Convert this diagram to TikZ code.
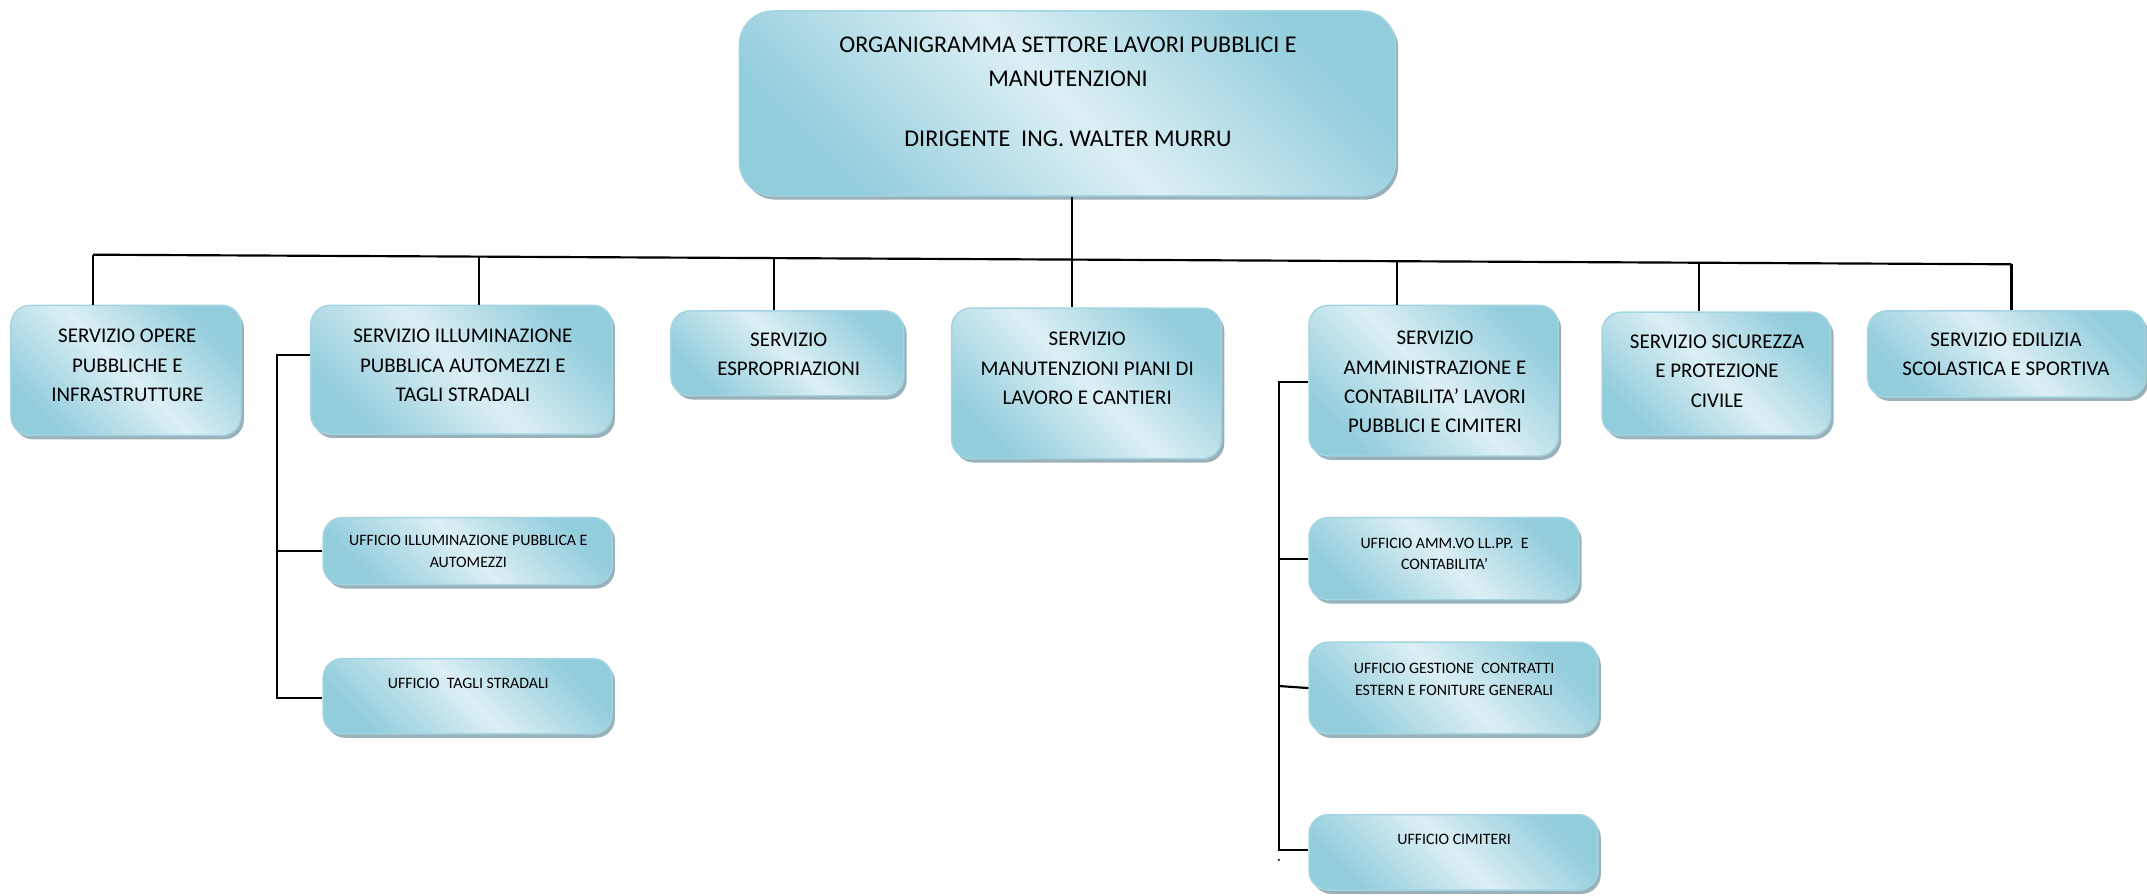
\documentclass[tikz,border=0pt]{standalone}
\usepackage{fontspec}
\setmainfont{Carlito}
\usetikzlibrary{shadows,fit,calc}
\definecolor{bdark}{HTML}{92CDDC}
\definecolor{blight}{HTML}{DCEFF4}
\definecolor{bline}{HTML}{A3D4E1}
\definecolor{bshadow}{HTML}{8FA9B2}
\tikzset{
  boxbase/.style={draw=bline, line width=0.6pt, top color=bdark, bottom color=bdark, middle color=blight, shading angle=-45, drop shadow={shadow xshift=1.2pt, shadow yshift=-1.6pt, fill=bshadow, opacity=0.9}, inner sep=0pt},
  box/.style={boxbase, rounded corners=8pt},
  bigbox/.style={boxbase, rounded corners=14pt},
  txt/.style={align=center, inner sep=0pt, font=\fontsize{8.7}{12.2}\selectfont},
  stxt/.style={align=center, inner sep=0pt, font=\fontsize{6.6}{9.1}\selectfont},
  ttxt/.style={align=center, inner sep=0pt, font=\fontsize{10}{14.2}\selectfont},
  conn/.style={line width=0.9pt, black}
}
\begin{document}
\begin{tikzpicture}[x=0.02cm, y=-0.02cm]
\useasboundingbox (0,0) rectangle (1568,654);

% boxes
\node[bigbox, fit={(540,8) (1019,143)}] (top) {};
\node[box, fit={(8,223) (176,318)}] (s1) {};
\node[box, fit={(227,223) (447,317)}] (s2) {};
\node[box, fit={(490,227) (660,289)}] (s3) {};
\node[box, fit={(695,225) (892,335)}] (s4) {};
\node[box, fit={(956,223) (1138,333)}] (s5) {};
\node[box, fit={(1170,228) (1337,318)}] (s6) {};
\node[box, fit={(1364,227) (1567,290)}] (s7) {};
\node[box, fit={(236,378) (447,427)}] (u1) {};
\node[box, fit={(236,481) (447,536)}] (u2) {};
\node[box, fit={(956,378) (1153,438)}] (a1) {};
\node[box, fit={(956,469) (1167,536)}] (a2) {};
\node[box, fit={(956,595) (1167,650)}] (a3) {};

% texts
\node[ttxt] (topt) at (780,67) {ORGANIGRAMMA SETTORE LAVORI PUBBLICI E\\MANUTENZIONI\\[10.7pt]DIRIGENTE\ \ ING. WALTER MURRU};
\node[txt] (s1t) at (93,267) {SERVIZIO OPERE\\PUBBLICHE E\\INFRASTRUTTURE};
\node[txt] (s2t) at (338,267) {SERVIZIO ILLUMINAZIONE\\PUBBLICA AUTOMEZZI E\\TAGLI STRADALI};
\node[txt] (s3t) at (576,258.5) {SERVIZIO\\ESPROPRIAZIONI};
\node[txt] (s4t) at (794,269) {SERVIZIO\\MANUTENZIONI PIANI DI\\LAVORO E CANTIERI};
\node[txt] (s5t) at (1048,279) {SERVIZIO\\AMMINISTRAZIONE E\\CONTABILITA’ LAVORI\\PUBBLICI E CIMITERI};
\node[txt] (s6t) at (1254,271) {SERVIZIO SICUREZZA\\E PROTEZIONE\\CIVILE};
\node[txt] (s7t) at (1465,258.5) {SERVIZIO EDILIZIA\\SCOLASTICA E SPORTIVA};
\node[stxt] (u1t) at (342,403) {UFFICIO ILLUMINAZIONE PUBBLICA E\\AUTOMEZZI};
\node[stxt] (u2t) at (342,499) {UFFICIO\ \ TAGLI STRADALI};
\node[stxt] (a1t) at (1055,404.5) {UFFICIO AMM.VO LL.PP.\ \ E\\CONTABILITA’};
\node[stxt] (a2t) at (1062,496) {UFFICIO GESTIONE\ \ CONTRATTI\\ESTERN E FONITURE GENERALI};
\node[stxt] (a3t) at (1062,613) {UFFICIO CIMITERI};

% bus
\coordinate (d1) at (68,186);
\coordinate (d2) at (350,187.4);
\coordinate (d3) at (565,188.5);
\coordinate (d4) at (783,189.6);
\coordinate (d5) at (1020,190.8);
\coordinate (d6) at (1241,191.9);
\coordinate (d7) at (1469,193);
\draw[conn] (d1) -- (d7);
\draw[conn] (d4 |- top.south) -- (d4);
\draw[conn] (d1) -- (d1 |- s1.north);
\draw[conn] (d2) -- (d2 |- s2.north);
\draw[conn] (d3) -- (d3 |- s3.north);
\draw[conn] (d4) -- (d4 |- s4.north);
\draw[conn] (d5) -- (d5 |- s5.north);
\draw[conn] (d6) -- (d6 |- s6.north);
\draw[conn] (d7) -- (d7 |- s7.north);

% left branch
\coordinate (lt) at (202,259);
\coordinate (lb) at (202,510);
\draw[conn] (lt -| s2.west) -- (lt) -- (lb) -- (lb -| u2.west);
\draw[conn] (lt |- u1.west) -- (u1.west);

% right branch
\coordinate (rt) at (934,279);
\coordinate (rb) at (934,621);
\draw[conn] (rt -| s5.west) -- (rt) -- (rb) -- (rb -| a3.west);
\draw[conn] (rt |- a1.west) -- (a1.west);
\draw[conn] (934,501) -- (a2.west);
\fill (934,628) circle (0.8);
\end{tikzpicture}
\end{document}
